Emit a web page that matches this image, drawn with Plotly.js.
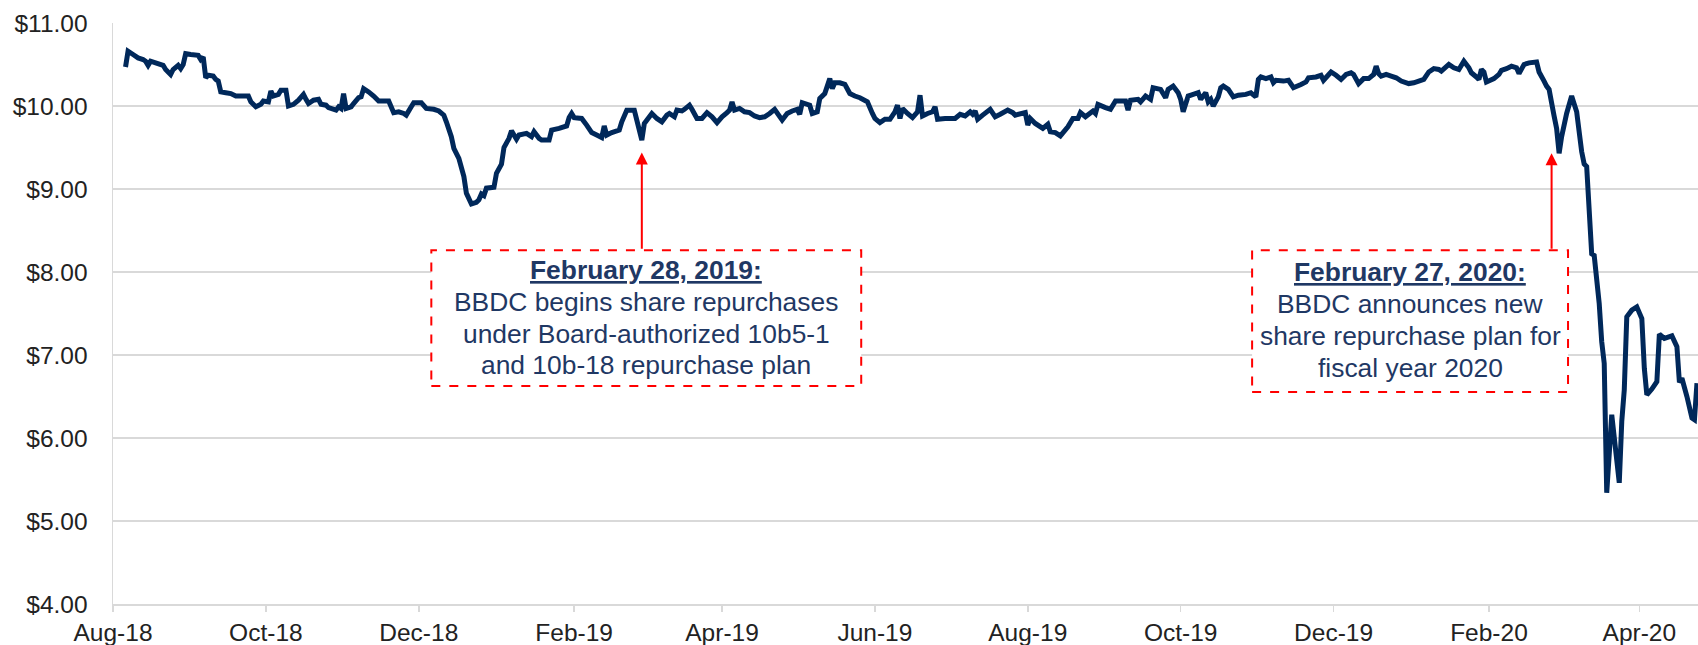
<!DOCTYPE html>
<html>
<head>
<meta charset="utf-8">
<script src="https://cdn.plot.ly/plotly-3.0.1.min.js"></script>
<style>
  html, body { margin: 0; padding: 0; background: #ffffff; }
  #chart { width: 1698px; height: 645px; }
</style>
</head>
<body>
<div id="chart"></div>
<script>
// ---- Data ----
const dates = [
'2018-08-06','2018-08-07','2018-08-09','2018-08-11','2018-08-13','2018-08-14','2018-08-15','2018-08-16','2018-08-18','2018-08-21',
'2018-08-22','2018-08-24','2018-08-25','2018-08-27','2018-08-28','2018-08-29','2018-08-30','2018-09-01','2018-09-04','2018-09-05',
'2018-09-06','2018-09-07','2018-09-08','2018-09-10','2018-09-11','2018-09-12','2018-09-13','2018-09-15','2018-09-17','2018-09-19',
'2018-09-24','2018-09-25','2018-09-27','2018-09-29','2018-09-30','2018-10-02','2018-10-03','2018-10-04','2018-10-06','2018-10-07',
'2018-10-09','2018-10-10','2018-10-12','2018-10-14','2018-10-16','2018-10-17','2018-10-18','2018-10-20','2018-10-22','2018-10-23',
'2018-10-25','2018-10-26','2018-10-29','2018-10-30','2018-10-31','2018-11-01','2018-11-02','2018-11-04','2018-11-05','2018-11-07',
'2018-11-08','2018-11-09','2018-11-11','2018-11-13','2018-11-15','2018-11-19','2018-11-21','2018-11-23','2018-11-25','2018-11-26',
'2018-11-28','2018-11-29','2018-12-02','2018-12-04','2018-12-07','2018-12-09','2018-12-11','2018-12-12','2018-12-14','2018-12-15',
'2018-12-17','2018-12-19','2018-12-20','2018-12-22','2018-12-24','2018-12-25','2018-12-26','2018-12-27','2018-12-28','2018-12-31',
'2019-01-01','2019-01-03','2019-01-04','2019-01-06','2019-01-07','2019-01-09','2019-01-10','2019-01-13','2019-01-15','2019-01-16',
'2019-01-18','2019-01-19','2019-01-22','2019-01-23','2019-01-26','2019-01-29','2019-01-30','2019-01-31','2019-02-01','2019-02-04',
'2019-02-06','2019-02-08','2019-02-10','2019-02-12','2019-02-13','2019-02-14','2019-02-16','2019-02-19','2019-02-20','2019-02-22',
'2019-02-25','2019-02-26','2019-02-28','2019-03-01','2019-03-04','2019-03-06','2019-03-08','2019-03-10','2019-03-11','2019-03-13',
'2019-03-14','2019-03-16','2019-03-17','2019-03-19','2019-03-20','2019-03-22','2019-03-24','2019-03-26','2019-03-28','2019-03-30',
'2019-04-01','2019-04-03','2019-04-04','2019-04-05','2019-04-06','2019-04-08','2019-04-10','2019-04-12','2019-04-14','2019-04-16',
'2019-04-18','2019-04-20','2019-04-22','2019-04-25','2019-04-27','2019-04-29','2019-05-01','2019-05-02','2019-05-03','2019-05-06',
'2019-05-07','2019-05-09','2019-05-10','2019-05-12','2019-05-14','2019-05-15','2019-05-16','2019-05-18','2019-05-20','2019-05-22',
'2019-05-24','2019-05-26','2019-05-29','2019-05-31','2019-06-01','2019-06-03','2019-06-05','2019-06-07','2019-06-09','2019-06-10',
'2019-06-11','2019-06-12','2019-06-14','2019-06-16','2019-06-18','2019-06-19','2019-06-20','2019-06-22','2019-06-24','2019-06-25',
'2019-06-26','2019-06-29','2019-07-03','2019-07-05','2019-07-07','2019-07-09','2019-07-10','2019-07-11','2019-07-12','2019-07-14',
'2019-07-17','2019-07-19','2019-07-21','2019-07-24','2019-07-26','2019-07-27','2019-07-31','2019-08-01','2019-08-02','2019-08-04',
'2019-08-07','2019-08-09','2019-08-10','2019-08-12','2019-08-14','2019-08-17','2019-08-19','2019-08-21','2019-08-22','2019-08-24',
'2019-08-27','2019-08-28','2019-08-29','2019-09-01','2019-09-03','2019-09-05','2019-09-09','2019-09-10','2019-09-11','2019-09-14',
'2019-09-15','2019-09-17','2019-09-19','2019-09-20','2019-09-23','2019-09-25','2019-09-26','2019-09-28','2019-09-30','2019-10-01',
'2019-10-02','2019-10-04','2019-10-06','2019-10-08','2019-10-09','2019-10-11','2019-10-12','2019-10-13','2019-10-14','2019-10-16',
'2019-10-17','2019-10-18','2019-10-20','2019-10-22','2019-10-24','2019-10-27','2019-10-29','2019-10-31','2019-11-01','2019-11-02',
'2019-11-04','2019-11-06','2019-11-07','2019-11-08','2019-11-11','2019-11-13','2019-11-15','2019-11-18','2019-11-20','2019-11-21',
'2019-11-24','2019-11-26','2019-11-27','2019-11-30','2019-12-02','2019-12-04','2019-12-06','2019-12-08','2019-12-09','2019-12-11',
'2019-12-13','2019-12-15','2019-12-17','2019-12-18','2019-12-19','2019-12-20','2019-12-22','2019-12-24','2019-12-26','2019-12-28',
'2019-12-31','2020-01-02','2020-01-04','2020-01-06','2020-01-08','2020-01-10','2020-01-12','2020-01-13','2020-01-16','2020-01-18',
'2020-01-20','2020-01-22','2020-01-24','2020-01-25','2020-01-27','2020-01-28','2020-01-29','2020-01-30','2020-01-31','2020-02-03',
'2020-02-05','2020-02-06','2020-02-08','2020-02-10','2020-02-12','2020-02-13','2020-02-15','2020-02-17','2020-02-20','2020-02-21',
'2020-02-23','2020-02-24','2020-02-25','2020-02-26','2020-02-27','2020-02-28','2020-02-29','2020-03-01','2020-03-03','2020-03-05',
'2020-03-07','2020-03-08','2020-03-09','2020-03-10','2020-03-11','2020-03-13','2020-03-14','2020-03-16','2020-03-17','2020-03-18',
'2020-03-19','2020-03-21','2020-03-24','2020-03-25','2020-03-26','2020-03-27','2020-03-29','2020-03-31','2020-04-02','2020-04-03',
'2020-04-04','2020-04-06','2020-04-08','2020-04-09','2020-04-11','2020-04-14','2020-04-16','2020-04-17','2020-04-18','2020-04-20',
'2020-04-22','2020-04-23','2020-04-24'
];
const prices = [
10.47,10.66,10.62,10.58,10.56,10.54,10.49,10.54,10.52,10.49,
10.44,10.38,10.44,10.49,10.45,10.50,10.63,10.62,10.61,10.56,
10.59,10.34,10.37,10.36,10.32,10.30,10.17,10.16,10.15,10.12,
10.12,10.05,9.99,10.02,10.06,10.05,10.18,10.12,10.14,10.19,
10.19,10.00,10.02,10.07,10.14,10.08,10.03,10.07,10.08,10.02,
10.01,9.98,9.95,9.99,9.97,10.15,9.97,9.99,10.03,10.10,
10.11,10.21,10.17,10.12,10.06,10.06,9.92,9.93,9.91,9.89,
9.99,10.04,10.04,9.97,9.96,9.94,9.89,9.81,9.63,9.49,
9.37,9.15,8.95,8.82,8.84,8.87,8.94,8.92,9.01,9.02,
9.19,9.30,9.50,9.61,9.70,9.60,9.65,9.67,9.63,9.69,
9.61,9.59,9.59,9.71,9.73,9.76,9.86,9.91,9.86,9.85,
9.77,9.68,9.65,9.62,9.76,9.65,9.68,9.71,9.81,9.95,
9.95,9.83,9.59,9.79,9.91,9.85,9.81,9.89,9.91,9.87,
9.95,9.94,9.96,10.01,9.96,9.85,9.85,9.92,9.87,9.80,
9.87,9.92,9.95,10.05,9.95,9.97,9.93,9.92,9.88,9.86,
9.87,9.91,9.96,9.83,9.91,9.94,9.96,9.90,10.04,10.01,
9.91,9.93,10.09,10.15,10.33,10.21,10.28,10.28,10.26,10.15,
10.12,10.10,10.05,9.91,9.85,9.80,9.84,9.84,9.93,10.01,
9.85,9.97,9.91,9.86,9.93,10.13,9.88,9.91,9.93,9.99,
9.84,9.85,9.85,9.90,9.88,9.93,9.90,9.94,9.84,9.89,
9.96,9.87,9.90,9.95,9.92,9.89,9.92,9.77,9.85,9.79,
9.73,9.78,9.69,9.68,9.64,9.75,9.85,9.85,9.92,9.87,
9.94,9.91,10.02,9.98,9.96,10.06,10.06,9.95,10.07,10.08,
10.05,10.12,10.08,10.22,10.20,10.10,10.20,10.24,10.16,10.08,
9.93,10.12,10.14,10.16,10.08,10.16,10.05,10.08,10.00,10.11,
10.22,10.24,10.20,10.11,10.13,10.14,10.16,10.11,10.32,10.35,
10.33,10.35,10.28,10.31,10.30,10.31,10.22,10.26,10.29,10.34,
10.35,10.37,10.31,10.41,10.37,10.32,10.38,10.40,10.38,10.27,
10.33,10.33,10.38,10.48,10.39,10.36,10.38,10.36,10.34,10.30,
10.27,10.28,10.30,10.32,10.41,10.45,10.44,10.42,10.50,10.46,
10.44,10.54,10.46,10.40,10.35,10.32,10.44,10.41,10.29,10.33,
10.38,10.43,10.45,10.48,10.46,10.39,10.50,10.52,10.53,10.41,
10.30,10.24,10.20,10.04,9.88,9.73,9.43,9.63,9.91,10.12,
9.93,9.69,9.45,9.30,9.27,8.22,8.20,7.62,7.16,6.90,
5.34,6.28,5.46,6.20,6.58,7.46,7.54,7.58,7.44,6.84,
6.52,6.59,6.68,7.25,7.20,7.23,7.10,6.67,6.72,6.50,
6.24,6.22,6.66
];

const xTickDates  = ['2018-08-01','2018-10-01','2018-12-01','2019-02-01','2019-04-01','2019-06-01',
                     '2019-08-01','2019-10-01','2019-12-01','2020-02-01','2020-04-01'];
const xTickLabels = ['Aug-18','Oct-18','Dec-18','Feb-19','Apr-19','Jun-19',
                     'Aug-19','Oct-19','Dec-19','Feb-20','Apr-20'];
const yTickValues = [4, 5, 6, 7, 8, 9, 10, 11];
const yTickLabels = ['$4.00','$5.00','$6.00','$7.00','$8.00','$9.00','$10.00','$11.00'];

const events = [
  { date: '2019-02-28', tip: 9.44, title: 'February 28, 2019:',
    lines: ['BBDC begins share repurchases', 'under Board-authorized 10b5-1', 'and 10b-18 repurchase plan'] },
  { date: '2020-02-26', tip: 9.43, title: 'February 27, 2020:',
    lines: ['BBDC announces new', 'share repurchase plan for', 'fiscal year 2020'] }
];

// ---- Layout geometry (pixels) ----
const W = 1698, Hh = 645;
const M = { l: 112.6, r: 0, t: 22.6, b: 40.7 };
const plotW = W - M.l - M.r, plotH = Hh - M.t - M.b;
const px = x => (x - M.l) / plotW;
const py = y => (Hh - M.b - y) / plotH;

const FONT = 'Liberation Sans, Arial, Helvetica, sans-serif';
const TXT = '#1F3864';
const RED = '#FF0000';

const boxes = [
  { x0: 431, x1: 861, y0: 250, y1: 386, cx: 646, ys: [269.5, 302, 334, 365.5] },
  { x0: 1252, x1: 1568, y0: 250, y1: 392, cx: 1410, ys: [271.5, 304, 336, 368] }
];

const shapes = boxes.map(b => ({
  type: 'rect', xref: 'paper', yref: 'paper',
  x0: px(b.x0), x1: px(b.x1), y0: py(b.y1), y1: py(b.y0),
  line: { color: RED, width: 2, dash: 'dash' }, fillcolor: 'rgba(255,255,255,1)', layer: 'above'
}));

const annotations = [];
events.forEach((ev, i) => {
  const b = boxes[i];
  const texts = ['<b><u>' + ev.title + '</u></b>'].concat(ev.lines);
  texts.forEach((t, k) => {
    annotations.push({
      xref: 'paper', yref: 'paper', x: px(b.cx), y: py(b.ys[k]),
      xanchor: 'center', yanchor: 'middle', showarrow: false,
      text: t, font: { family: FONT, size: 26.4, color: TXT }
    });
  });
  annotations.push({
    xref: 'x', yref: 'y', x: ev.date, y: ev.tip,
    ax: 0, ay: 250 - (M.t + (11 - ev.tip) * plotH / 7),
    text: '', showarrow: true, arrowhead: 2, arrowsize: 1.2, arrowwidth: 2,
    arrowcolor: RED, standoff: 0
  });
});

const trace = {
  type: 'scatter', mode: 'lines', x: dates, y: prices,
  line: { color: '#00285A', width: 5, simplify: false },
  hoverinfo: 'x+y'
};

const layout = {
  width: W, height: Hh,
  margin: M,
  paper_bgcolor: '#ffffff', plot_bgcolor: '#ffffff',
  showlegend: false,
  font: { family: FONT, size: 24.5, color: '#222222' },
  xaxis: {
    type: 'date',
    range: ['2018-08-01', '2020-04-24 10:00'],
    tickmode: 'array', tickvals: xTickDates, ticktext: xTickLabels,
    ticks: 'outside', ticklen: 6, tickwidth: 1.5, tickcolor: '#d9d9d9',
    showline: true, linecolor: '#d9d9d9', linewidth: 1.5,
    showgrid: false, zeroline: false,
    ticklabelstandoff: 0,
    tickfont: { family: FONT, size: 24.5, color: '#222222' }
  },
  yaxis: {
    range: [4, 11],
    tickmode: 'array', tickvals: yTickValues, ticktext: yTickLabels,
    ticks: '', showline: true, linecolor: '#d9d9d9', linewidth: 1.5,
    showgrid: true, gridcolor: '#d9d9d9', gridwidth: 1.5, zeroline: false,
    ticklabelstandoff: 19,
    tickfont: { family: FONT, size: 24.5, color: '#222222' }
  },
  shapes: shapes,
  annotations: annotations
};

Plotly.newPlot('chart', [trace], layout, { displayModeBar: false, staticPlot: true });
</script>
</body>
</html>
